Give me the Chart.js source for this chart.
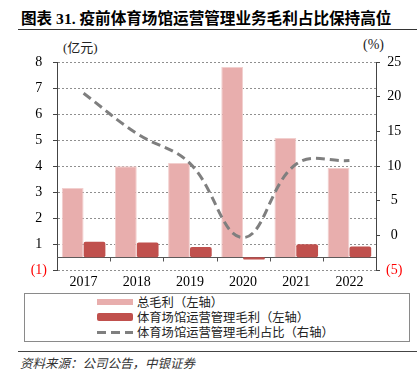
<!DOCTYPE html>
<html>
<head>
<meta charset="utf-8">
<script src="https://cdn.jsdelivr.net/npm/chart.js@4/dist/chart.umd.min.js"></script>
<style>
  body { margin: 0; width: 417px; height: 383px; background: #fff; position: relative; overflow: hidden; }
  .abs { position: absolute; white-space: nowrap; }
  #title { left: 21px; top: 6px; font: bold 15.6px "Liberation Serif", "Noto Sans CJK SC"; color: #000; }
  #rule { left: 18px; top: 29px; width: 399px; height: 0; border-top: 1px solid #333; }
  .unit { font: 13px "Liberation Serif", "Noto Sans CJK SC"; color: #222; top: 37px; }
  #chartBox { left: 0; top: 0; width: 417px; height: 288px; }
  #legend { left: 24px; top: 293px; width: 384px; height: 47px; border: 1px solid #8a8a8a; background: #fff; }
  .item { position: absolute; left: 72px; height: 15px; font: 12.3px "Noto Sans CJK SC"; color: #222; line-height: 15px; }
  .item span.sw { position: absolute; left: 0; width: 36px; }
  .item span.txt { position: absolute; left: 40px; top: 0; }
  #foot { left: 18px; top: 351px; width: 399px; height: 0; border-top: 1px solid #444; }
  #source { left: 20px; top: 353px; font: italic 12.5px "Noto Sans CJK SC"; color: #333; }
</style>
</head>
<body>
<div class="abs" id="title">图表 31. 疫前体育场馆运营管理业务毛利占比保持高位</div>
<div class="abs" id="rule"></div>
<div class="abs unit" style="left:63px;">(亿元)</div>
<div class="abs unit" style="left:363px;font-size:14px;">(%)</div>
<div class="abs" id="chartBox"><canvas id="chart"></canvas></div>
<div class="abs" id="legend"></div>
<div class="abs" id="foot"></div>
<div class="abs" id="source">资料来源：公司公告，中银证券</div>

<script>
// data
const years = ["2017", "2018", "2019", "2020", "2021", "2022"];
const totalProfit = [3.16, 3.99, 4.12, 7.81, 5.08, 3.93];     // 总毛利 (left axis)
const venueProfit = [1.09, 1.06, 0.89, 0.41, 1.0, 0.91];      // 体育场馆运营管理毛利 (left axis)
const venueShare = [20.5, 14.7, 10.4, -0.3, 10.3, 10.8];      // 毛利占比 % (right axis)
const leftTicks = ["(1)", "1", "2", "3", "4", "5", "6", "7", "8"];
const rightTicks = ["(5)", "0", "5", "10", "15", "20", "25"];
const seriesNames = ["总毛利（左轴）", "体育场馆运营管理毛利（左轴）", "体育场馆运营管理毛利占比（右轴）"];

const lightRed = "#E8AEAD";
const darkRed = "#C0504D";
const lineGray = "#7F7F7F";
const barBase = 0.5;  // category axis sits half way between the first two ticks

// baseline + small tick marks between categories
const baseLine = {
    id: "baseLine",
    beforeDatasetsDraw(chart) {
        const ctx = chart.ctx;
        const xs = chart.scales.x;
        const y = Math.round(chart.scales.y.getPixelForValue(barBase)) + 0.5;
        ctx.save();
        ctx.strokeStyle = "#555";
        ctx.lineWidth = 1;
        ctx.beginPath();
        ctx.moveTo(chart.chartArea.left, y);
        ctx.lineTo(chart.chartArea.right, y);
        for (let i = 0; i < years.length - 1; i++) {
            const x = Math.round((xs.getPixelForValue(i) + xs.getPixelForValue(i + 1)) / 2) + 0.5;
            ctx.moveTo(x, y);
            ctx.lineTo(x, y + 4);
        }
        ctx.stroke();
        ctx.restore();
    }
};

const tickFont = { family: "Liberation Serif", size: 14 };

const chart = new Chart(document.getElementById("chart"), {
    type: "bar",
    data: {
        labels: years,
        datasets: [
            {
                label: seriesNames[0],
                data: totalProfit,
                base: barBase,
                backgroundColor: lightRed,
                borderColor: "#F2CFCE",
                borderWidth: 1,
                yAxisID: "y",
                order: 2
            },
            {
                label: seriesNames[1],
                data: venueProfit,
                base: barBase,
                backgroundColor: darkRed,
                borderRadius: 2,
                borderSkipped: false,
                yAxisID: "y",
                order: 2
            },
            {
                type: "line",
                label: seriesNames[2],
                data: venueShare,
                borderColor: lineGray,
                borderWidth: 3,
                borderDash: [9, 5],
                tension: 0.4,
                pointRadius: 0,
                fill: false,
                yAxisID: "y1",
                order: 0
            }
        ]
    },
    options: {
        responsive: true,
        maintainAspectRatio: false,
        animation: false,
        categoryPercentage: 0.82,
        barPercentage: 1.0,
        layout: { padding: { top: 62, left: 0, right: 0, bottom: 1 } },
        plugins: {
            legend: { display: false },
            tooltip: { enabled: false }
        },
        scales: {
            x: {
                grid: { display: false },
                border: { display: false },
                ticks: { font: tickFont, color: "#000", padding: -4, maxRotation: 0 }
            },
            y: {
                position: "left",
                min: 0,
                max: 8,
                afterFit(scale) { scale.width = 57; },
                ticks: {
                    stepSize: 1,
                    font: tickFont,
                    crossAlign: "center",
                    padding: 6,
                    color: c => c.index === 0 ? "#FF0000" : "#000",
                    callback: (v, i) => leftTicks[i]
                },
                grid: { color: "#8f8f8f", tickColor: "#444", tickLength: 4 },
                border: { display: true, color: "#444", dash: [2, 2] }
            },
            y1: {
                position: "right",
                min: -5,
                max: 25,
                afterFit(scale) { scale.width = 41; },
                ticks: {
                    stepSize: 5,
                    font: tickFont,
                    crossAlign: "center",
                    padding: 6,
                    color: c => c.index === 0 ? "#FF0000" : "#000",
                    callback: (v, i) => rightTicks[i]
                },
                grid: { drawOnChartArea: false, tickColor: "#444", tickLength: 4 },
                border: { display: true, color: "#444" }
            }
        }
    },
    plugins: [baseLine]
});

// legend box, built from the chart's datasets
const legend = document.getElementById("legend");
const swatches = [
    "top:4px;height:6px;background:" + lightRed,
    "top:3px;height:8px;border-radius:2px;background:" + darkRed,
    "top:6px;height:3px;background:repeating-linear-gradient(to right," + lineGray + " 0 9px,transparent 9px 14px)"
];
chart.data.datasets.forEach((ds, i) => {
    const row = document.createElement("div");
    row.className = "item";
    row.style.top = (1 + i * 15) + "px";
    row.innerHTML = '<span class="sw" style="' + swatches[i] + '"></span><span class="txt">' + ds.label + "</span>";
    legend.appendChild(row);
});
</script>
</body>
</html>
